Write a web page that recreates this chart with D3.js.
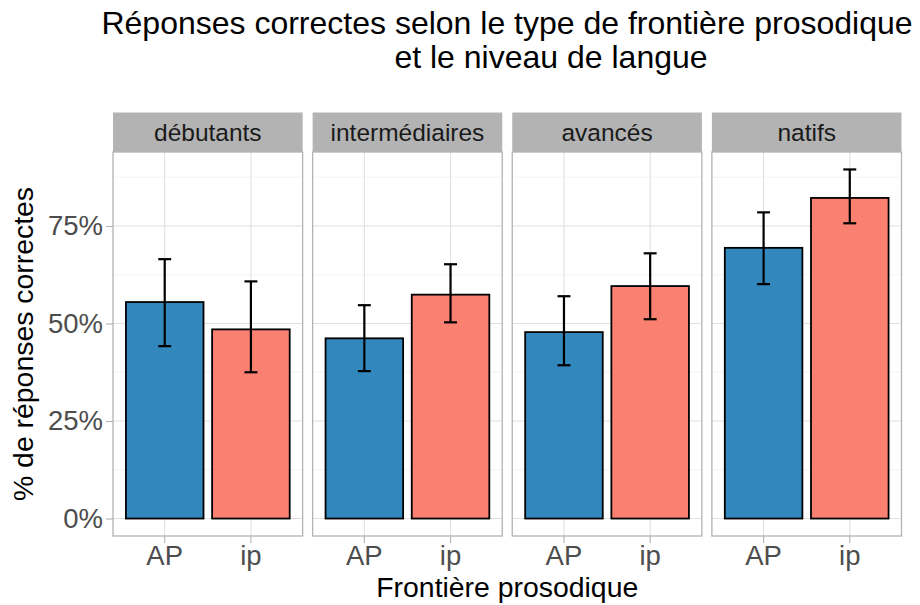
<!DOCTYPE html>
<html>
<head>
<meta charset="utf-8">
<script src="https://cdn.jsdelivr.net/npm/d3@7"></script>
<style>
  html, body { margin: 0; padding: 0; background: #ffffff; }
  svg { display: block; font-family: "Liberation Sans", Arial, sans-serif; }
</style>
</head>
<body>
<svg id="chart" width="920" height="605"></svg>
<script>
// Proportion of correct answers by prosodic boundary, per language level
const levels = ["débutants", "intermédiaires", "avancés", "natifs"];
const frontiers = ["AP", "ip"];
const meanAP = [0.555, 0.462, 0.478, 0.694];
const meanIP = [0.485, 0.574, 0.596, 0.822];
const lowAP  = [0.442, 0.378, 0.393, 0.601];
const highAP = [0.665, 0.547, 0.570, 0.785];
const lowIP  = [0.375, 0.503, 0.511, 0.757];
const highIP = [0.608, 0.652, 0.680, 0.895];
const yTicks = [0, 0.25, 0.5, 0.75];
const yMinor = [0.125, 0.375, 0.625, 0.875];
const fillColors = ["#3288BD", "#FA8072"];

const rows = [];
levels.forEach((lvl, i) => {
  rows.push({ level: lvl, frontier: "AP", value: meanAP[i], lo: lowAP[i], hi: highAP[i] });
  rows.push({ level: lvl, frontier: "ip", value: meanIP[i], lo: lowIP[i], hi: highIP[i] });
});

const svg = d3.select("#chart");

const plotLeft = 113, plotRight = 901.5, gap = 10;
const stripTop = 112.5, panelTop = 152, panelBottom = 536;
const panelW = (plotRight - plotLeft - gap * (levels.length - 1)) / levels.length;

const yMax = d3.max(rows, d => d.hi);
const y = d3.scaleLinear()
  .domain([-0.05 * yMax, yMax * 1.05])
  .range([panelBottom, panelTop]);

const x = d3.scaleBand()
  .domain(frontiers)
  .range([0, panelW])
  .paddingInner(0.1)
  .paddingOuter(0.15);

const color = d3.scaleOrdinal().domain(frontiers).range(fillColors);

// Title (second line is indented to the right)
const title = svg.append("text")
  .attr("text-anchor", "middle")
  .attr("font-size", 32)
  .attr("fill", "#000");
title.append("tspan").attr("x", 507).attr("y", 34).text("Réponses correctes selon le type de frontière prosodique");
title.append("tspan").attr("x", 551).attr("y", 68).text("et le niveau de langue");

levels.forEach((lvl, i) => {
  const px = plotLeft + i * (panelW + gap);
  const g = svg.append("g").attr("transform", `translate(${px},0)`);
  const data = rows.filter(r => r.level === lvl);

  // grid
  g.selectAll(".gmin").data(yMinor).join("line")
    .attr("x1", 0).attr("x2", panelW)
    .attr("y1", d => y(d)).attr("y2", d => y(d))
    .attr("stroke", "#EBEBEB").attr("stroke-width", 0.6);
  g.selectAll(".gmaj").data(yTicks).join("line")
    .attr("x1", 0).attr("x2", panelW)
    .attr("y1", d => y(d)).attr("y2", d => y(d))
    .attr("stroke", "#E0E0E0").attr("stroke-width", 1.1);
  g.selectAll(".gx").data(frontiers).join("line")
    .attr("x1", d => x(d) + x.bandwidth() / 2).attr("x2", d => x(d) + x.bandwidth() / 2)
    .attr("y1", panelTop).attr("y2", panelBottom)
    .attr("stroke", "#E0E0E0").attr("stroke-width", 1.1);

  // bars
  g.selectAll(".bar").data(data).join("rect")
    .attr("x", d => x(d.frontier))
    .attr("width", x.bandwidth())
    .attr("y", d => y(d.value))
    .attr("height", d => y(0) - y(d.value))
    .attr("fill", d => color(d.frontier))
    .attr("stroke", "#000").attr("stroke-width", 1.8);

  // error bars
  const capW = x.step() * 0.15;
  const eb = g.selectAll(".eb").data(data).join("g")
    .attr("transform", d => `translate(${x(d.frontier) + x.bandwidth() / 2},0)`);
  eb.append("line").attr("x1", 0).attr("x2", 0)
    .attr("y1", d => y(d.lo)).attr("y2", d => y(d.hi))
    .attr("stroke", "#000").attr("stroke-width", 2.2);
  eb.append("line").attr("x1", -capW / 2).attr("x2", capW / 2)
    .attr("y1", d => y(d.hi)).attr("y2", d => y(d.hi))
    .attr("stroke", "#000").attr("stroke-width", 2.2);
  eb.append("line").attr("x1", -capW / 2).attr("x2", capW / 2)
    .attr("y1", d => y(d.lo)).attr("y2", d => y(d.lo))
    .attr("stroke", "#000").attr("stroke-width", 2.2);

  // panel border
  g.append("rect")
    .attr("x", 0).attr("y", panelTop)
    .attr("width", panelW).attr("height", panelBottom - panelTop)
    .attr("fill", "none").attr("stroke", "#B3B3B3").attr("stroke-width", 1.3);

  // strip
  g.append("rect")
    .attr("x", 0).attr("y", stripTop)
    .attr("width", panelW).attr("height", panelTop - stripTop)
    .attr("fill", "#B3B3B3");
  g.append("text")
    .attr("x", panelW / 2).attr("y", 141)
    .attr("text-anchor", "middle")
    .attr("font-size", 24.5).attr("fill", "#1A1A1A")
    .text(lvl);

  // x axis
  const ax = g.append("g")
    .attr("transform", `translate(0,${panelBottom})`)
    .call(d3.axisBottom(x).tickSize(7).tickPadding(2));
  ax.select(".domain").remove();
  ax.selectAll(".tick line").attr("stroke", "#B3B3B3").attr("stroke-width", 1.1);
  ax.selectAll(".tick text")
    .attr("font-size", 27.5).attr("font-family", "Liberation Sans, Arial, sans-serif")
    .attr("fill", "#4D4D4D");

  // y axis on first panel only
  if (i === 0) {
    const ay = g.append("g")
      .call(d3.axisLeft(y).tickValues(yTicks).tickFormat(d3.format(".0%")).tickSize(7).tickPadding(3));
    ay.select(".domain").remove();
    ay.selectAll(".tick line").attr("stroke", "#B3B3B3").attr("stroke-width", 1.1);
    ay.selectAll(".tick text")
      .attr("font-size", 27.5).attr("font-family", "Liberation Sans, Arial, sans-serif")
      .attr("fill", "#4D4D4D");
  }
});

// axis titles
svg.append("text")
  .attr("x", (plotLeft + plotRight) / 2).attr("y", 597)
  .attr("text-anchor", "middle").attr("font-size", 28.4).attr("fill", "#000")
  .text("Frontière prosodique");
svg.append("text")
  .attr("transform", `translate(33,${(panelTop + panelBottom) / 2}) rotate(-90)`)
  .attr("text-anchor", "middle").attr("font-size", 28.4).attr("fill", "#000")
  .text("% de réponses correctes");
</script>
</body>
</html>
